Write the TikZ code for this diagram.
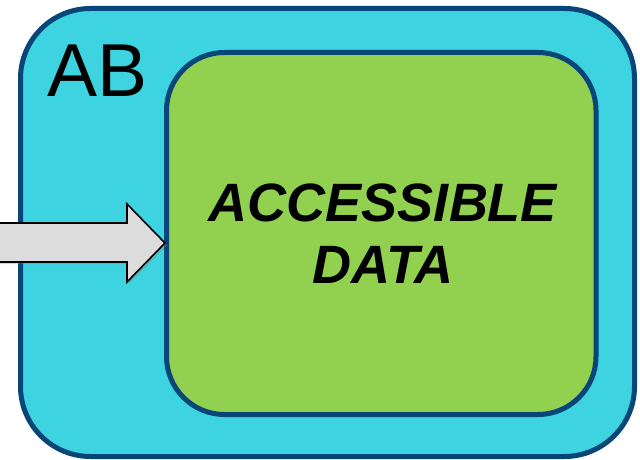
\documentclass[tikz,border=0pt]{standalone}
\usepackage{fontspec}
\setmainfont{Liberation Sans}
\usetikzlibrary{shadows}
\definecolor{skycyan}{HTML}{3ED3E0}
\definecolor{leafgreen}{HTML}{92D050}
\definecolor{navyedge}{HTML}{084579}
\definecolor{arrowgray}{HTML}{DCDCDC}
\tikzset{
  panel/.style={draw=navyedge, line width=5pt},
  pointer/.style={draw=black, line width=1.6pt, fill=arrowgray, line join=miter,
    drop shadow={shadow xshift=2pt, shadow yshift=-2pt, opacity=0.35}},
}
\begin{document}
\begin{tikzpicture}[x=1pt, y=-1pt]
  \useasboundingbox (0,0) rectangle (640,460);
  % outer container
  \draw[panel, fill=skycyan, rounded corners=70pt] (20.5,8.5) rectangle (634.5,456.5);
  \node[anchor=base west, font=\fontsize{75}{80}\selectfont, inner sep=0pt] (ab) at (47,96) {AB};
  % inner data block
  \draw[panel, fill=leafgreen, rounded corners=58pt] (166.5,52.5) rectangle (596,414.5);
  \node[font=\fontsize{54}{62}\selectfont\bfseries\itshape, align=center, inner sep=0pt]
    (data) at (383,234) {ACCESSIBLE\\DATA};
  % incoming arrow
  \coordinate (tip) at (165,243);
  \draw[pointer] (-5,223) -- (127,223) -- (127,204) -- (tip) -- (127,282) -- (127,262) -- (-5,262) -- cycle;
\end{tikzpicture}
\end{document}
